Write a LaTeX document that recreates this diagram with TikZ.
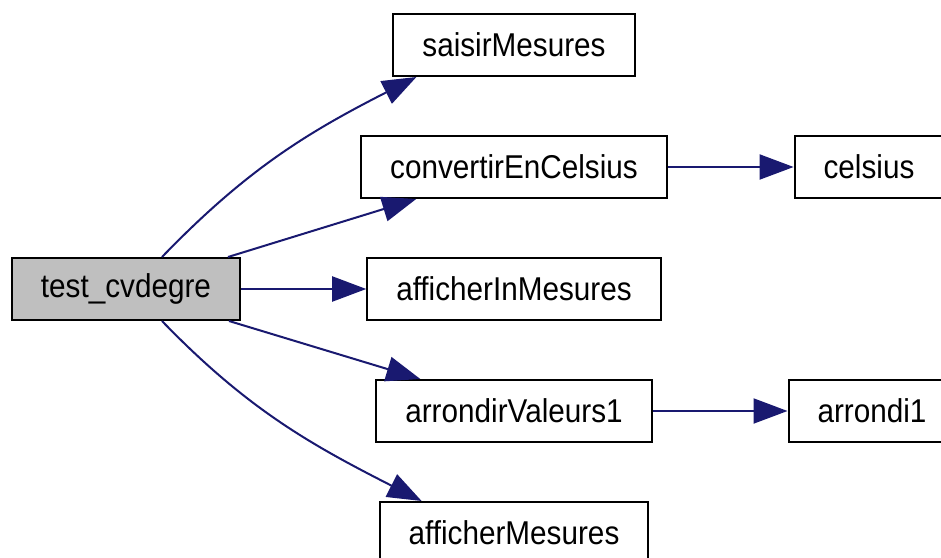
\documentclass[tikz,border=0pt]{standalone}
\usepackage{fontspec}
\setmainfont{Liberation Sans}[FakeStretch=0.9]
\usetikzlibrary{positioning,arrows.meta}
\definecolor{callblue}{HTML}{191970}

\begin{document}
\begin{tikzpicture}[
	node distance=61pt, on grid,
	fn/.style={draw, line width=1pt, minimum height=31pt, inner xsep=14.5pt, inner ysep=0pt,
		font=\fontsize{16.5pt}{19pt}\selectfont},
	call/.style={callblue, line width=1pt, -{Triangle[length=17pt,width=12.5pt]}}
	]
	\useasboundingbox (-63pt,-134pt) rectangle (407.5pt,144.5pt);
	\node[fn, fill=black!25] (f0) {test\_cvdegre};
	\node[fn, right=194pt of f0] (f3) {afficherInMesures};
	\node[fn, above=of f3] (f2) {convertirEnCelsius};
	\node[fn, above=of f2] (f1) {saisirMesures};
	\node[fn, below=of f3] (f4) {arrondirValeurs1};
	\node[fn, below=of f4] (f5) {afficherMesures};
	\node[fn, right=177.5pt of f2] (g1) {celsius};
	\node[fn, right=179pt of f4] (g2) {arrondi1};
	\draw[call] ([xshift=18pt]f0.north) to[out=46,in=207] ([xshift=12pt]f1.south west);
	\draw[call] ([xshift=-6.5pt]f0.north east) -- ([xshift=28pt]f2.south west);
	\draw[call] (f0) -- (f3);
	\draw[call] ([xshift=-6pt]f0.south east) -- ([xshift=22.5pt]f4.north west);
	\draw[call] ([xshift=18pt]f0.south) to[out=-46,in=153] ([xshift=21.5pt]f5.north west);
	\draw[call] (f2) -- (g1);
	\draw[call] (f4) -- (g2);
\end{tikzpicture}
\end{document}
